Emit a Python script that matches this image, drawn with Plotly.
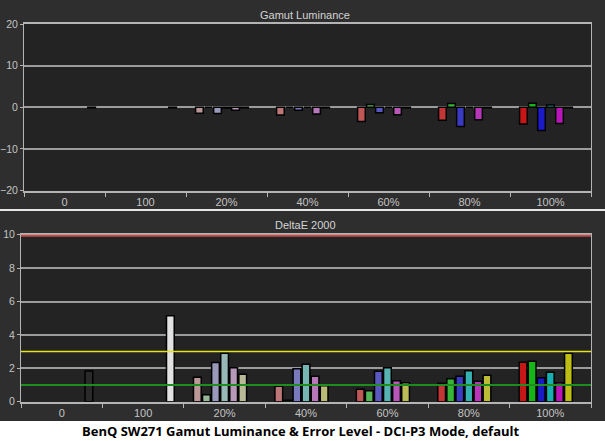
import plotly.graph_objects as go

# patch groups along the x axis
groups = ["0", "100", "20%", "40%", "60%", "80%", "100%"]
saturation = [None, None, 0.2, 0.4, 0.6, 0.8, 1.0]

# Gamut Luminance error (top panel)
lum_red = [None, None, -1.45, -1.85, -3.4, -3.1, -4.0]
lum_green = [None, None, 0, 0, 0.65, 0.9, 0.95]
lum_blue = [None, None, -1.5, -0.7, -1.3, -4.6, -5.6]
lum_cyan = [None, None, -0.2, 0, 0, 0, 0.55]
lum_magenta = [None, None, -0.7, -1.6, -1.8, -3.0, -3.9]
lum_yellow = [None, None, -0.1, -0.1, -0.1, -0.1, -0.1]
lum_gray = [-0.1, -0.1, None, None, None, None, None]

# DeltaE 2000 (bottom panel)
de_red = [None, None, 1.46, 0.92, 0.74, 1.10, 2.36]
de_green = [None, None, 0.42, 0.08, 0.66, 1.38, 2.42]
de_blue = [None, None, 2.34, 1.98, 1.82, 1.52, 1.44]
de_cyan = [None, None, 2.90, 2.24, 2.04, 1.86, 1.76]
de_magenta = [None, None, 2.04, 1.52, 1.26, 1.22, 1.14]
de_yellow = [None, None, 1.64, 0.96, 1.14, 1.58, 2.90]
de_gray = [1.84, 5.14, None, None, None, None, None]

# reference levels on the DeltaE panel
de_limit_green = 1
de_limit_yellow = 3
de_limit_red = 10

primaries = {
    "red": (225, 25, 25),
    "green": (25, 205, 25),
    "blue": (30, 30, 225),
    "cyan": (25, 200, 200),
    "magenta": (210, 25, 210),
    "yellow": (215, 215, 25),
}


def tint(rgb, s, shade=0.88):
    base = (210, 210, 210)
    if s is None:
        return "rgba(0,0,0,0)"
    c = [int((b * (1 - s) + p * s) * shade) for b, p in zip(base, rgb)]
    return "rgb(%d,%d,%d)" % tuple(c)


gray_colors = ["#2a2a2a", "#e2e2e2", None, None, None, None, None]

panels = [
    ("x", "y", [lum_red, lum_green, lum_blue, lum_cyan, lum_magenta, lum_yellow, lum_gray]),
    ("x2", "y2", [de_red, de_green, de_blue, de_cyan, de_magenta, de_yellow, de_gray]),
]
names = list(primaries) + ["gray"]

fig = go.Figure()
for xa, ya, series in panels:
    for name, vals in zip(names, series):
        if name == "gray":
            colors = [c if c else "rgba(0,0,0,0)" for c in gray_colors]
        else:
            colors = [tint(primaries[name], s) for s in saturation]
        fig.add_trace(go.Bar(
            x=groups, y=vals, name=name, xaxis=xa, yaxis=ya,
            marker=dict(color=colors, line=dict(color="#000000", width=1.5)),
            showlegend=False,
        ))

H = 441.0
W = 605.0
tick_font = dict(family="Liberation Sans", size=11, color="#c4c4c4")
ytick_font = dict(family="Liberation Sans", size=10.5, color="#c4c4c4")
line_col = "#b4b4b4"
grid_col = "#9c9c9c"

xcommon = dict(
    type="category", categoryorder="array", categoryarray=groups,
    tickson="boundaries", ticks="outside", ticklen=4, tickcolor=line_col,
    showline=True, linecolor=line_col, linewidth=2, mirror=True,
    showgrid=False, tickfont=tick_font, automargin=False, fixedrange=True,
)
ycommon = dict(
    ticks="outside", ticklen=3, tickcolor=line_col,
    showline=True, linecolor=line_col, linewidth=1, mirror=True,
    showgrid=True, gridcolor=grid_col, gridwidth=1.5, zeroline=False,
    tickfont=ytick_font, automargin=False, fixedrange=True,
)

fig.update_layout(
    template="none",
    width=605, height=441,
    margin=dict(l=0, r=0, t=0, b=0),
    paper_bgcolor="#2e2e2e",
    plot_bgcolor="#232323",
    barmode="group",
    bargap=0.22,
    bargroupgap=0.15,
    xaxis=dict(xcommon, domain=[24 / W, 591 / W], anchor="y"),
    yaxis=dict(ycommon, domain=[1 - 190.5 / H, 1 - 24 / H], anchor="x",
               range=[-20, 20], tickvals=[-20, -10, 0, 10, 20]),
    xaxis2=dict(xcommon, domain=[21 / W, 591 / W], anchor="y2"),
    yaxis2=dict(ycommon, domain=[1 - 401.7 / H, 1 - 234.7 / H], anchor="x2",
                range=[0, 10], tickvals=[0, 2, 4, 6, 8, 10]),
    shapes=[
        dict(type="rect", xref="paper", yref="paper", x0=0, x1=1, y0=0, y1=20 / H,
             fillcolor="#ffffff", line=dict(width=0), layer="below"),
        dict(type="line", xref="paper", yref="paper", x0=0, x1=1,
             y0=1 - 210 / H, y1=1 - 210 / H, line=dict(color="#e6e6e6", width=2)),
        dict(type="line", xref="x2 domain", yref="y2", x0=0, x1=1,
             y0=de_limit_green, y1=de_limit_green, line=dict(color="#1e8c1e", width=2)),
        dict(type="line", xref="x2 domain", yref="y2", x0=0, x1=1,
             y0=de_limit_yellow, y1=de_limit_yellow, line=dict(color="#e4e41c", width=1.5)),
        dict(type="line", xref="x2 domain", yref="y2", x0=0, x1=1,
             y0=de_limit_red, y1=de_limit_red, line=dict(color="#c44a4a", width=4)),
    ],
    annotations=[
        dict(text="Gamut Luminance", xref="paper", yref="paper", x=305 / W, y=1 - 15 / H,
             yanchor="middle", showarrow=False,
             font=dict(family="Liberation Sans", size=11, color="#d4d4d4")),
        dict(text="DeltaE 2000", xref="paper", yref="paper", x=305 / W, y=1 - 225 / H,
             yanchor="middle", showarrow=False,
             font=dict(family="Liberation Sans", size=11, color="#d4d4d4")),
        dict(text="BenQ SW271 Gamut Luminance & Error Level - DCI-P3 Mode, default",
             xref="paper", yref="paper", x=301 / W, y=1 - 431 / H,
             yanchor="middle", showarrow=False,
             font=dict(family="Open Sans", size=13, color="#000000", weight="bold")),
    ],
)

# the page body has a default 8px margin; drop it so the figure fills the window
fig.write_html("out.html", config={"displayModeBar": False},
               post_script="document.body.style.margin='0';")
